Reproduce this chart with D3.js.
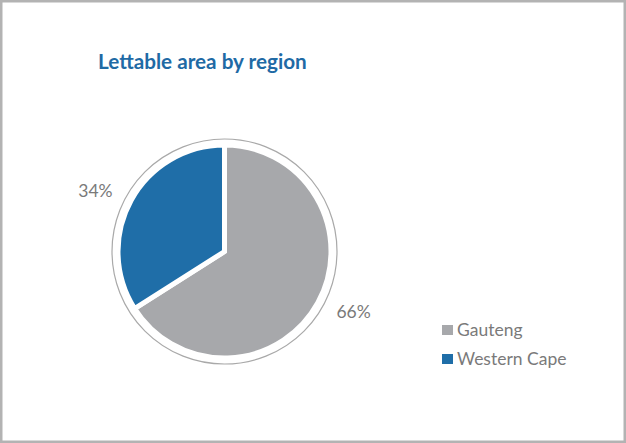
<!DOCTYPE html>
<html>
<head>
<meta charset="utf-8">
<script src="https://cdn.jsdelivr.net/npm/d3@7"></script>
<style>
  html, body { margin: 0; padding: 0; background: #fff; }
  svg { display: block; }
</style>
</head>
<body>
<svg id="chart" width="626" height="443"></svg>
<script>
// Share of lettable area, by region
const regions = ["Gauteng", "Western Cape"];
const shares = [66, 34];
const regionColors = ["#a7a8ab", "#1f6ea8"];
const chartTitle = "Lettable area by region";

const svg = d3.select("#chart");
const W = 626, H = 443;

// frame
svg.append("rect")
  .attr("x", 1.25).attr("y", 1.25)
  .attr("width", W - 2.5).attr("height", H - 2.5)
  .attr("fill", "#fff")
  .attr("stroke", "#b3b3b3")
  .attr("stroke-width", 2.5);

// title
svg.append("text")
  .attr("x", 98).attr("y", 69)
  .attr("font-family", "Lato, 'Open Sans', sans-serif")
  .attr("font-weight", "bold")
  .attr("font-size", 20.7)
  .attr("fill", "#1f6aa5")
  .text(chartTitle);

const cx = 224.5, cy = 251.5;
const rPie = 106.5, rRing = 112.5, rLabel = 143;

const g = svg.append("g").attr("transform", `translate(${cx},${cy})`);

// thin outline circle around the pie
g.append("circle")
  .attr("r", rRing)
  .attr("fill", "none")
  .attr("stroke", "#a9a9a9")
  .attr("stroke-width", 1.2);

const data = regions.map((name, i) => ({ name, value: shares[i], color: regionColors[i] }));

const pie = d3.pie().value(d => d.value).sort(null);
const arcs = pie(data);
const arc = d3.arc().innerRadius(0).outerRadius(rPie);
const labelArc = d3.arc().innerRadius(rLabel).outerRadius(rLabel);

g.selectAll("path.slice")
  .data(arcs)
  .join("path")
  .attr("class", "slice")
  .attr("d", arc)
  .attr("fill", d => d.data.color)
  .attr("stroke", "#fff")
  .attr("stroke-width", 5)
  .attr("stroke-linejoin", "miter");

// percentage labels sit on a slightly flattened ring around the pie
g.selectAll("text.pct")
  .data(arcs)
  .join("text")
  .attr("class", "pct")
  .attr("transform", d => {
    const [x, y] = labelArc.centroid(d);
    return `translate(${x * 1.03},${y * 0.88})`;
  })
  .attr("text-anchor", "middle")
  .attr("dy", "0.36em")
  .attr("font-family", "Lato, 'Open Sans', sans-serif")
  .attr("font-size", 17.5)
  .attr("fill", "#7a7a7a")
  .text(d => d.data.value + "%");

// legend
const legend = svg.append("g").attr("transform", "translate(442,325)");
const rows = legend.selectAll("g")
  .data(data)
  .join("g")
  .attr("transform", (d, i) => `translate(0,${i * 29})`);

rows.append("rect")
  .attr("width", 11).attr("height", 10)
  .attr("fill", d => d.color);

rows.append("text")
  .attr("x", 15).attr("y", 10.5)
  .attr("font-family", "Lato, 'Open Sans', sans-serif")
  .attr("font-size", 17.5)
  .attr("fill", "#7a7a7a")
  .text(d => d.name);
</script>
</body>
</html>
